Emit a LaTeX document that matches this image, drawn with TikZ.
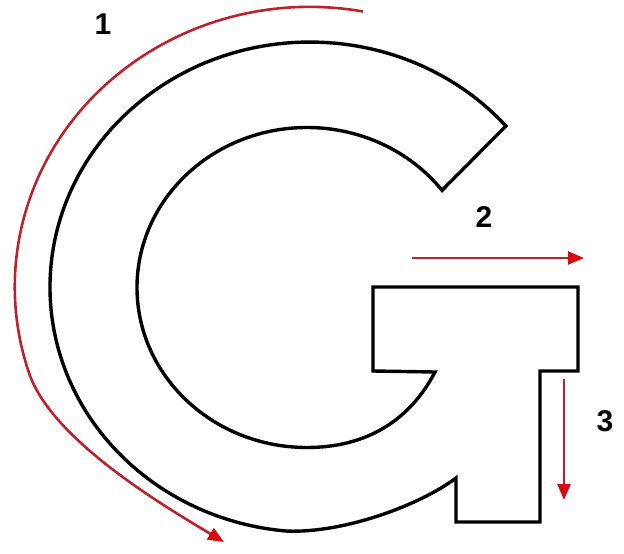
\documentclass[tikz,border=0pt]{standalone}
\usepackage{fontspec}
\setmainfont{Liberation Sans}
\usetikzlibrary{arrows.meta}
\definecolor{redline}{RGB}{185,35,45}
\definecolor{redtip}{RGB}{215,10,20}
\tikzset{
  outline/.style={draw=black, line width=3.4pt, line join=miter},
  redarrow/.style={draw=redline, line width=2.6pt, -{Triangle[length=16pt,width=13pt,fill=redtip,color=redtip]}},
  lbl/.style={font=\fontsize{30}{30}\selectfont\bfseries, inner sep=0pt}
}
\begin{document}
\begin{tikzpicture}[x=1pt,y=-1pt]
\useasboundingbox (0,0) rectangle (624,554);
% G outline
\draw[outline] (505.9,126)
  arc[start angle=-41.1, end angle=-265, x radius=260, y radius=245]
  .. controls (345,533) and (420,505) .. (456,478)
  -- (456,522) -- (540,522) -- (540,371) -- (578,371) -- (578,287)
  -- (373,287) -- (373,371) -- (435,372)
  .. controls (410,420) and (367,447.5) .. (307,447.5)
  arc[start angle=90, end angle=322.6, x radius=170, y radius=160]
  -- cycle;
% coordinates for the arrows
\coordinate (a1s) at (363,11.5);
\coordinate (a1e) at (224,542);
\coordinate (a2s) at (412,258);
\coordinate (a2e) at (584,258);
\coordinate (a3s) at (564,379);
\coordinate (a3e) at (564,500);
% arrow 1
\draw[redarrow] (a1s)
  arc[start angle=-79.6, end angle=-198, x radius=295, y radius=280]
  .. controls (52,440) and (164,506) .. (a1e);
% arrows 2 and 3
\draw[redarrow] (a2s) -- (a2e);
\draw[redarrow] (a3s) -- (a3e);
% labels
\node[lbl] (n1) at (103,24) {1};
\node[lbl] (n2) at (484,217) {2};
\node[lbl] (n3) at (605,421) {3};
\end{tikzpicture}
\end{document}
